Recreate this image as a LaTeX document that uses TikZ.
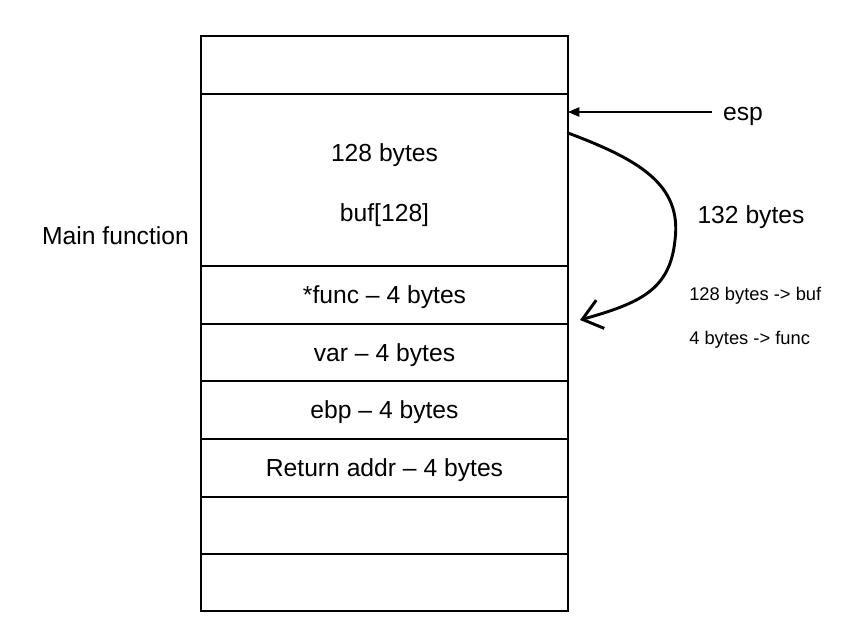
\documentclass[tikz,border=0pt]{standalone}
\usepackage{fontspec}
\setmainfont{Liberation Sans}
\usetikzlibrary{arrows.meta}

\begin{document}
\begin{tikzpicture}[x=0.75pt,y=-0.75pt,
  cell/.style={draw=black,line width=1pt,minimum width=275.25pt,inner sep=0pt,
    text height=12.9pt,text depth=0pt,font=\fontsize{18.5}{22}\selectfont},
  label/.style={font=\fontsize{18.5}{22}\selectfont,inner sep=0pt,
    text height=12.9pt,text depth=0pt},
  note/.style={font=\fontsize{13.75}{16}\selectfont,inner sep=0pt,anchor=west,
    text height=9.6pt,text depth=0pt}]
\useasboundingbox (0,0) rectangle (841,627);

\node[cell,minimum height=43.5pt] (top) at (384.5,65) {};
\node[cell,minimum height=129pt] (buf) at (384.5,180) {};
\node[cell,minimum height=43.5pt] (func) at (384.5,295) {*func -- 4 bytes};
\node[cell,minimum height=42.75pt] (var) at (384.5,352.5) {var -- 4 bytes};
\node[cell,minimum height=43.5pt] (ebp) at (384.5,410) {ebp -- 4 bytes};
\node[cell,minimum height=43.5pt] (ret) at (384.5,468) {Return addr -- 4 bytes};
\node[cell,minimum height=42.75pt] (low) at (384.5,525.5) {};
\node[cell,minimum height=42.75pt] (bottom) at (384.5,582.5) {};

\node[label] (size) at (384.5,153) {128 bytes};
\node[label] (array) at (384.5,213) {buf[128]};
\node[label] (main) at (115.5,235.5) {Main function};

\node[label] (esp) at (743,111.5) {esp};
\coordinate (esptop) at (568,112);
\draw[line width=1pt,-{Triangle[length=8.5pt,width=7pt]}] (712,112) -- (esptop);

\coordinate (from) at (568,133);
\coordinate (to) at (580,320);
\draw[line width=2.2pt,line cap=round,line join=round,
  -{Straight Barb[length=14pt,width=22pt,line width=2.2pt]}]
  (from) .. controls (640,160) and (682,185) .. (675,240)
  .. controls (670,290) and (640,303) .. (to);

\node[label] (total) at (751,215) {132 bytes};
\node[note] (tobuf) at (689,294.5) {128 bytes -> buf};
\node[note] (tofunc) at (689,338.5) {4 bytes -> func};
\end{tikzpicture}
\end{document}
